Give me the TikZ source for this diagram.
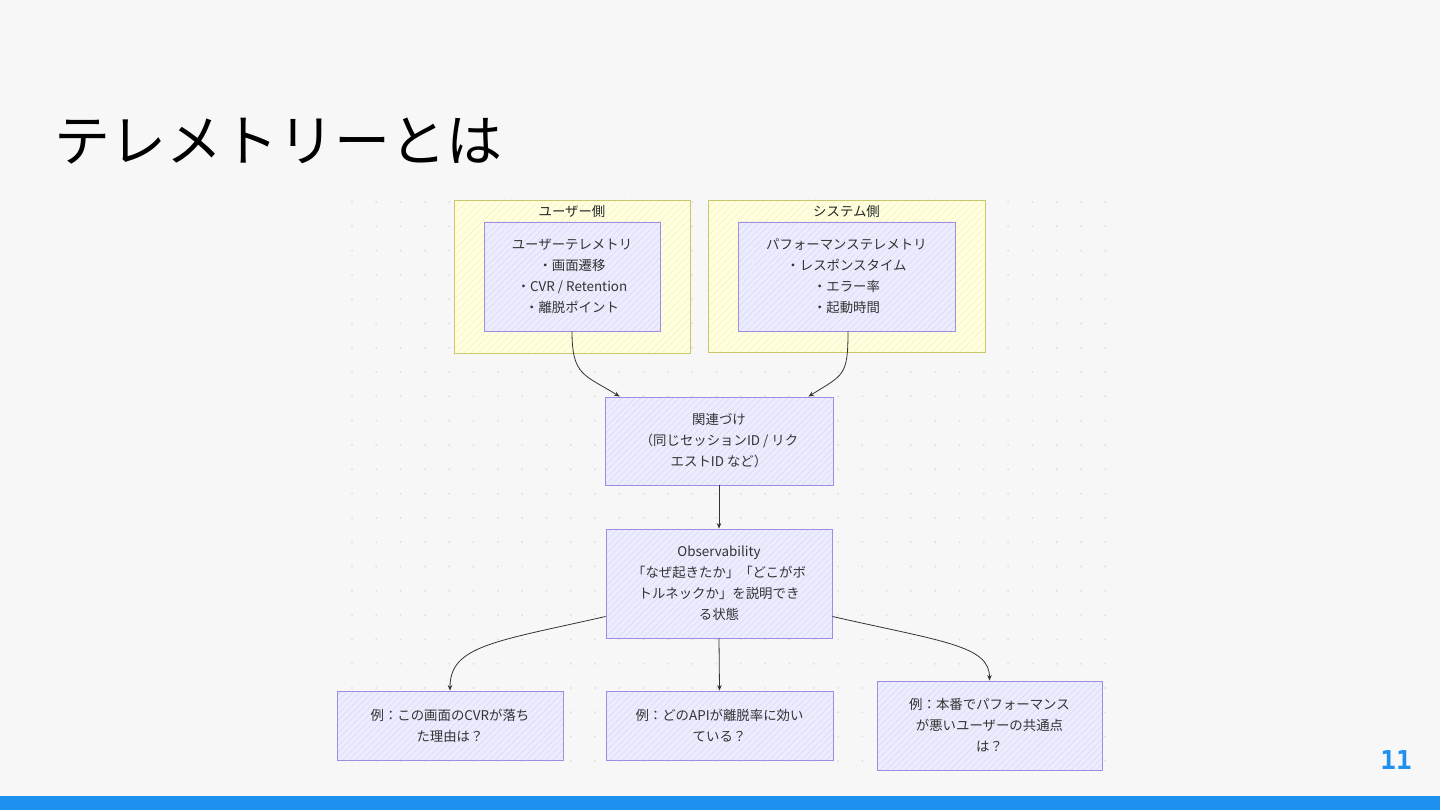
\documentclass[tikz,border=0pt]{standalone}
\usepackage{fontspec}
\setmainfont{Noto Sans CJK JP}
\newfontfamily\numfont{DejaVu Sans Mono Bold}
\usetikzlibrary{patterns.meta,arrows.meta}
\definecolor{bg}{HTML}{F7F7F7}
\definecolor{lav}{HTML}{ECECFF}
\definecolor{lavline}{HTML}{A08CE0}
\definecolor{lavhatch}{HTML}{D8D8F0}
\definecolor{yel}{HTML}{FFFFDE}
\definecolor{yelline}{HTML}{C8C86A}
\definecolor{yelhatch}{HTML}{F0F0C8}
\definecolor{arrc}{HTML}{333333}
\definecolor{blue}{HTML}{1E90F0}
\definecolor{dotc}{HTML}{E0E0E0}
\tikzset{
  grp/.style={draw=yelline, line width=0.9pt, preaction={fill=yel},
    pattern={Lines[angle=45,distance=5pt,line width=0.5pt]}, pattern color=yelhatch,
    inner sep=0pt},
  box/.style={draw=lavline, line width=0.9pt, preaction={fill=lav},
    pattern={Lines[angle=45,distance=4.5pt,line width=0.5pt]}, pattern color=lavhatch,
    align=center, inner sep=0pt, font=\fontsize{13.4}{21}\selectfont, text=black!80},
  glabel/.style={font=\fontsize{13.4}{16}\selectfont, text=black!85, inner sep=0pt},
  arr/.style={draw=arrc, line width=0.8pt, -{Stealth[length=5.5pt,width=4.5pt]}},
}
\begin{document}
\begin{tikzpicture}[x=1pt,y=-1pt]
\useasboundingbox (0,0) rectangle (1440,810);
\fill[bg] (0,0) rectangle (1440,810);
\fill[blue] (0,796) rectangle (1440,810);
% dot grid
\foreach \i in {0,...,31}{
  \foreach \j in {0,...,23}{
    \fill[dotc] ({352+\i*24.3},{202+\j*24.3}) circle (1.1);
  }
}
\node[anchor=west, inner sep=0pt, font=\fontsize{56}{60}\selectfont] (title) at (54,141) {テレメトリーとは};
\node[inner sep=0pt, font=\numfont\fontsize{26}{28}\selectfont, text=blue] (pg) at (1396,760) {11};

% groups
\node[grp, minimum width=236, minimum height=153] (ugrp) at (572,276.5) {};
\node[grp, minimum width=277, minimum height=152] (sgrp) at (846.5,276) {};
\node[glabel] (ulab) at (572,211) {ユーザー側};
\node[glabel] (slab) at (846.5,211) {システム側};

\node[box, minimum width=176, minimum height=109] (utel) at (572,276.5)
  {ユーザーテレメトリ\\・画面遷移\\・CVR / Retention\\・離脱ポイント};
\node[box, minimum width=217, minimum height=109] (stel) at (846.5,276.5)
  {パフォーマンステレメトリ\\・レスポンスタイム\\・エラー率\\・起動時間};

\node[box, minimum width=228, minimum height=88] (corr) at (719,441)
  {関連づけ\\（同じセッションID / リク\\エストID など）};
\node[box, minimum width=226, minimum height=109] (obs) at (719,583.5)
  {Observability\\「なぜ起きたか」「どこがボ\\トルネックか」を説明でき\\る状態};

\node[box, minimum width=226, minimum height=69] (ex1) at (450,725.5)
  {例：この画面のCVRが落ち\\た理由は？};
\node[box, minimum width=227, minimum height=69] (ex2) at (719.5,725.5)
  {例：どのAPIが離脱率に効い\\ている？};
\node[box, minimum width=225, minimum height=89] (ex3) at (989.5,725.5)
  {例：本番でパフォーマンス\\が悪いユーザーの共通点\\は？};

% connectors
\draw[arr] (utel.south) .. controls +(0,45) and +(-35,-22) .. ([xshift=15pt]corr.north west);
\draw[arr] ([xshift=1.5pt]stel.south) .. controls +(0,45) and +(35,-22) .. ([xshift=-25pt]corr.north east);
\draw[arr] (corr.south) -- (obs.north);
\draw[arr] ([yshift=-33pt]obs.west) .. controls +(-110,25) and +(0,-45) .. (ex1.north);
\draw[arr] (obs.south) -- (ex2.north);
\draw[arr] ([yshift=-33pt]obs.east) .. controls +(110,25) and +(0,-35) .. (ex3.north);
\end{tikzpicture}
\end{document}
